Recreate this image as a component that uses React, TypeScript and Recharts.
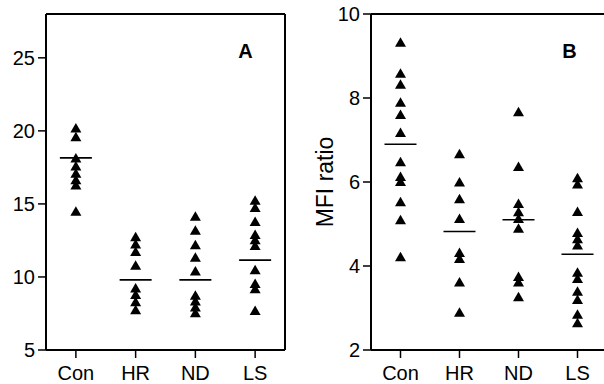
import React from 'react';
import { ScatterChart, Scatter, XAxis, YAxis, Label, ReferenceLine } from 'recharts';

// Categories
const categories = ['Con', 'HR', 'ND', 'LS'];

// Panel A values
const aCon = [20.2, 19.6, 18.15, 17.6, 17.1, 16.65, 16.3, 14.5];
const aHR = [12.75, 12.25, 11.75, 10.8, 9.25, 8.8, 8.3, 7.75];
const aND = [14.15, 13.2, 12.2, 11.35, 10.4, 8.75, 8.35, 7.95, 7.55];
const aLS = [15.25, 14.75, 13.8, 12.9, 12.55, 12.15, 10.5, 9.55, 9.2, 7.7];
const aMeans = [18.15, 9.8, 9.8, 11.15];
const aTicks = [5, 10, 15, 20, 25];

// Panel B values (MFI ratio)
const bCon = [9.33, 8.59, 8.33, 7.9, 7.61, 7.18, 6.48, 6.13, 6.01, 5.53, 5.1, 4.22];
const bHR = [6.67, 6.0, 5.6, 5.13, 4.32, 4.18, 3.62, 2.9];
const bND = [7.67, 6.37, 5.49, 5.29, 5.13, 4.9, 3.75, 3.62, 3.27];
const bLS = [6.1, 5.95, 5.3, 4.8, 4.65, 4.5, 3.85, 3.7, 3.4, 3.2, 2.85, 2.65];
const bMeans = [6.9, 4.82, 5.1, 4.28];
const bTicks = [2, 4, 6, 8, 10];

const catIdx = [0, 1, 2, 3];
const xDomain: [number, number] = [-0.5, 3.5];

const toPoints = (groups: number[][]) =>
  groups.flatMap((vals, i) => vals.map((v) => ({ x: i, y: v })));
const toMeans = (means: number[]) => means.map((v, i) => ({ x: i, y: v }));

const pointsA = toPoints([aCon, aHR, aND, aLS]);
const pointsB = toPoints([bCon, bHR, bND, bLS]);
const meansA = toMeans(aMeans);
const meansB = toMeans(bMeans);

const FONT = '"Liberation Sans", Arial, Helvetica, sans-serif';

const Triangle = (props: any) => {
  const { cx, cy } = props;
  if (cx == null || cy == null) return <g />;
  return (
    <path
      d={`M${cx},${cy - 5}L${cx + 5.5},${cy + 4.5}L${cx - 5.5},${cy + 4.5}Z`}
      fill="#000"
    />
  );
};

const MeanLine = (props: any) => {
  const { cx, cy } = props;
  if (cx == null || cy == null) return <g />;
  return <line x1={cx - 16} x2={cx + 16} y1={cy} y2={cy} stroke="#000" strokeWidth={1.6} />;
};

const tickLine = { stroke: '#000', strokeWidth: 1.5 };
const tickStyle = { fill: '#000', fontSize: 20, fontFamily: FONT };

function Panel(props: {
  width: number;
  marginRight: number;
  yAxisWidth: number;
  domain: [number, number];
  ticks: number[];
  points: { x: number; y: number }[];
  means: { x: number; y: number }[];
  letter: string;
  letterX: number;
  yLabel?: string;
}) {
  const { width, marginRight, yAxisWidth, domain, ticks, points, means, letter, letterX, yLabel } = props;
  return (
    <ScatterChart
      width={width}
      height={384}
      margin={{ top: 14, right: marginRight, bottom: 0, left: 0 }}
    >
      <XAxis
        dataKey="x"
        type="number"
        domain={xDomain}
        ticks={catIdx}
        tickFormatter={(v: number) => categories[v]}
        height={34}
        tickSize={8}
        tickMargin={8}
        stroke="#000"
        axisLine={false}
        tickLine={tickLine}
        tick={tickStyle}
        interval={0}
        allowDataOverflow
      />
      <YAxis
        dataKey="y"
        type="number"
        domain={domain}
        ticks={ticks}
        width={yAxisWidth}
        tickSize={8}
        tickMargin={3}
        stroke="#000"
        axisLine={false}
        tickLine={tickLine}
        tick={tickStyle}
        interval={0}
        allowDataOverflow
      >
        {yLabel ? (
          <Label
            content={(p: any) => {
              const vb = p.viewBox || {};
              const cx = (vb.x ?? 0) + 25;
              const cy = (vb.y ?? 0) + (vb.height ?? 0) / 2;
              return (
                <text
                  x={cx}
                  y={cy}
                  transform={`rotate(-90 ${cx} ${cy})`}
                  textAnchor="middle"
                  dominantBaseline="central"
                  fontSize={23}
                  fontFamily={FONT}
                  fill="#000"
                >
                  {yLabel}
                </text>
              );
            }}
          />
        ) : null}
      </YAxis>
      {/* frame: left, bottom, top, right */}
      <ReferenceLine x={xDomain[0]} stroke="#000" strokeWidth={2} ifOverflow="visible" />
      <ReferenceLine y={domain[0]} stroke="#000" strokeWidth={2} ifOverflow="visible" />
      <ReferenceLine y={domain[1]} stroke="#000" strokeWidth={2} ifOverflow="visible" />
      <ReferenceLine x={xDomain[1]} stroke="#000" strokeWidth={2} ifOverflow="visible" />
      <Scatter data={points} shape={Triangle} isAnimationActive={false} />
      <Scatter data={means} shape={MeanLine} isAnimationActive={false} />
      <text
        x={letterX}
        y={58}
        textAnchor="middle"
        fontSize={20}
        fontWeight="bold"
        fontFamily={FONT}
        fill="#000"
      >
        {letter}
      </text>
    </ScatterChart>
  );
}

export default function App() {
  return (
    <div
      style={{
        position: 'absolute',
        left: 0,
        top: 0,
        width: 604,
        height: 384,
        overflow: 'hidden',
        background: '#fff',
      }}
    >
      <div style={{ position: 'absolute', left: 0, top: 0 }}>
        <Panel
          width={300}
          marginRight={15}
          yAxisWidth={46}
          domain={[5, 28]}
          ticks={aTicks}
          points={pointsA}
          means={meansA}
          letter="A"
          letterX={245.5}
        />
      </div>
      <div style={{ position: 'absolute', left: 300, top: 0 }}>
        <Panel
          width={310}
          marginRight={3}
          yAxisWidth={71}
          domain={[2, 10]}
          ticks={bTicks}
          points={pointsB}
          means={meansB}
          letter="B"
          letterX={269.5}
          yLabel="MFI ratio"
        />
      </div>
    </div>
  );
}
